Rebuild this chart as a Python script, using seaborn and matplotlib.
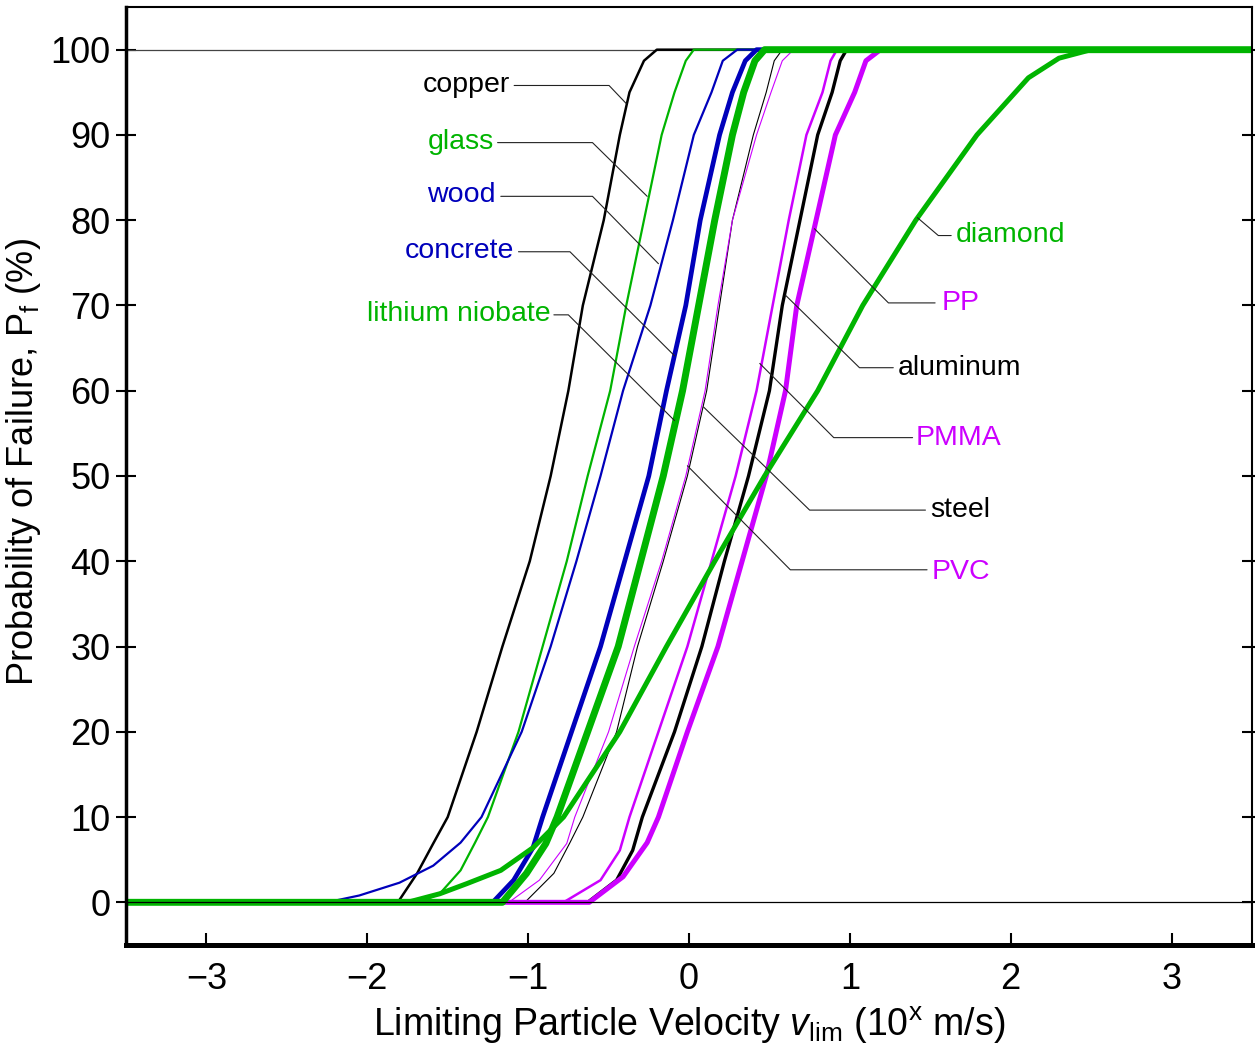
import matplotlib
matplotlib.use("Agg")
import matplotlib.pyplot as plt
import pandas as pd
import seaborn as sns

# x = log10 of limiting velocity, pf = probability of failure (%)
copper_x = [-3.5, -1.81, -1.69, -1.59, -1.50, -1.32, -1.16, -0.99, -0.86, -0.75, -0.66, -0.53, -0.43, -0.37, -0.28, -0.20, 3.5]
copper_pf = [0, 0, 3.4, 6.9, 10, 20, 30, 40, 50, 60, 70, 80, 90, 95, 98.7, 100, 100]

glass_x = [-3.5, -1.68, -1.55, -1.42, -1.33, -1.25, -1.06, -0.91, -0.76, -0.63, -0.49, -0.39, -0.28, -0.17, -0.09, -0.02, 0.03, 3.5]
glass_pf = [0, 0, 1, 3.75, 7, 10, 20, 30, 40, 50, 60, 70, 80, 90, 95, 98.7, 100, 100]

wood_x = [-3.5, -2.25, -2.05, -1.80, -1.59, -1.42, -1.29, -1.04, -0.86, -0.70, -0.55, -0.41, -0.24, -0.10, 0.03, 0.14, 0.21, 0.30, 3.5]
wood_pf = [0, 0, 0.8, 2.3, 4.3, 7, 10, 20, 30, 40, 50, 60, 70, 80, 90, 95, 98.7, 100, 100]

concrete_x = [-3.5, -1.22, -1.09, -0.97, -0.91, -0.73, -0.55, -0.40, -0.25, -0.14, -0.02, 0.07, 0.19, 0.27, 0.35, 0.42, 3.5]
concrete_pf = [0, 0, 2.6, 6.4, 10, 20, 30, 40, 50, 60, 70, 80, 90, 95, 98.7, 100, 100]

linbo3_x = [-3.5, -1.16, -1.01, -0.89, -0.82, -0.63, -0.44, -0.30, -0.16, -0.04, 0.06, 0.16, 0.27, 0.34, 0.41, 0.47, 3.5]
linbo3_pf = [0, 0, 3.4, 6.9, 10, 20, 30, 40, 50, 60, 70, 80, 90, 95, 98.7, 100, 100]

pvc_x = [-3.5, -1.12, -0.93, -0.76, -0.71, -0.50, -0.34, -0.17, -0.02, 0.10, 0.18, 0.27, 0.42, 0.51, 0.58, 0.65, 3.5]
pvc_pf = [0, 0, 2.6, 6.9, 10, 20, 30, 40, 50, 60, 70, 80, 90, 95, 98.7, 100, 100]

steel_x = [-3.5, -1.02, -0.84, -0.74, -0.66, -0.45, -0.32, -0.16, -0.01, 0.11, 0.19, 0.27, 0.40, 0.48, 0.53, 0.58, 3.5]
steel_pf = [0, 0, 3.4, 7, 10, 20, 30, 40, 50, 60, 70, 80, 90, 95, 98.7, 100, 100]

pmma_x = [-3.5, -0.78, -0.55, -0.43, -0.37, -0.19, -0.01, 0.14, 0.29, 0.42, 0.52, 0.62, 0.73, 0.83, 0.88, 0.92, 3.5]
pmma_pf = [0, 0, 2.6, 6.1, 10, 20, 30, 40, 50, 60, 70, 80, 90, 95, 98.7, 100, 100]

aluminum_x = [-3.5, -0.63, -0.45, -0.35, -0.29, -0.09, 0.08, 0.22, 0.37, 0.50, 0.58, 0.69, 0.80, 0.89, 0.94, 0.98, 3.5]
aluminum_pf = [0, 0, 2.6, 6.1, 10, 20, 30, 40, 50, 60, 70, 80, 90, 95, 98.7, 100, 100]

pp_x = [-3.5, -0.62, -0.41, -0.26, -0.19, -0.01, 0.18, 0.33, 0.48, 0.60, 0.67, 0.79, 0.91, 1.03, 1.10, 1.19, 3.5]
pp_pf = [0, 0, 3, 7, 10, 20, 30, 40, 50, 60, 70, 80, 90, 95, 98.7, 100, 100]

diamond_x = [-3.5, -1.75, -1.55, -1.38, -1.17, -0.97, -0.78, -0.43, -0.14, 0.16, 0.47, 0.80, 1.08, 1.41, 1.79, 2.11, 2.30, 2.5, 3.5]
diamond_pf = [0, 0, 1, 2.2, 3.75, 6.4, 10, 20, 30, 40, 50, 60, 70, 80, 90, 96.7, 99, 100, 100]

BLACK = '#000000'
GREEN = '#00b400'
BLUE = '#0000bb'
MAGENTA = '#cc00ff'

# drawing order: last one ends up on top
curves = [
    ('steel', steel_x, steel_pf, BLACK, 0.8),
    ('PVC', pvc_x, pvc_pf, MAGENTA, 0.8),
    ('PMMA', pmma_x, pmma_pf, MAGENTA, 1.8),
    ('aluminum', aluminum_x, aluminum_pf, BLACK, 2.4),
    ('PP', pp_x, pp_pf, MAGENTA, 3.6),
    ('copper', copper_x, copper_pf, BLACK, 1.8),
    ('glass', glass_x, glass_pf, GREEN, 1.6),
    ('wood', wood_x, wood_pf, BLUE, 1.6),
    ('concrete', concrete_x, concrete_pf, BLUE, 3.4),
    ('diamond', diamond_x, diamond_pf, GREEN, 3.6),
    ('lithium niobate', linbo3_x, linbo3_pf, GREEN, 5.0),
]

# label text anchor, leader path (text end -> elbow -> curve)
labels = {
    'copper':          ((-1.11, 95.9), 'right', [(-1.087, 95.8), (-0.497, 95.8), (-0.391, 93.7)]),
    'glass':           ((-1.21, 89.2), 'right', [(-1.19, 89.1), (-0.60, 89.1), (-0.26, 82.8)]),
    'wood':            ((-1.20, 83.0), 'right', [(-1.17, 82.8), (-0.60, 82.8), (-0.19, 74.9)]),
    'concrete':        ((-1.09, 76.4), 'right', [(-1.06, 76.3), (-0.74, 76.3), (-0.09, 64.1)]),
    'lithium niobate': ((-0.86, 69.0), 'right', [(-0.84, 68.9), (-0.75, 68.9), (-0.09, 56.5)]),
    'diamond':         ((1.66, 78.3), 'left', [(1.63, 78.2), (1.55, 78.2), (1.42, 80.3)]),
    'PP':              ((1.57, 70.3), 'left', [(1.53, 70.3), (1.24, 70.3), (0.78, 79.0)]),
    'aluminum':        ((1.30, 62.7), 'left', [(1.27, 62.7), (1.06, 62.7), (0.60, 71.2)]),
    'PMMA':            ((1.41, 54.5), 'left', [(1.39, 54.5), (0.90, 54.5), (0.44, 63.2)]),
    'steel':           ((1.50, 46.0), 'left', [(1.47, 46.0), (0.75, 46.0), (0.09, 58.1)]),
    'PVC':             ((1.51, 38.7), 'left', [(1.48, 39.0), (0.63, 39.0), (-0.01, 51.2)]),
}

sns.set_style('ticks', {'axes.edgecolor': 'black', 'xtick.color': 'black',
                        'ytick.color': 'black', 'text.color': 'black',
                        'axes.labelcolor': 'black'})
plt.rcParams['font.family'] = ['Liberation Sans', 'DejaVu Sans']
plt.rcParams['mathtext.fontset'] = 'custom'
plt.rcParams['mathtext.rm'] = 'Liberation Sans'
plt.rcParams['mathtext.it'] = 'Liberation Sans:italic'

fig = plt.figure(figsize=(12.55, 10.51), dpi=100)
ax = fig.add_axes([0.1004, 0.1009, 0.8972, 0.8924])

ax.axhline(100, color='#444444', lw=0.9, zorder=1)

colors = {}
for name, xs, pf, col, lw in curves:
    df = pd.DataFrame({'x': xs, 'pf': pf})
    sns.lineplot(data=df, x='x', y='pf', color=col, linewidth=lw,
                 estimator=None, sort=False, ax=ax, zorder=2)
    colors[name] = col

ax.axhline(0, color='black', lw=0.9, zorder=3)

for name, ((tx, ty), ha, path) in labels.items():
    px = [p[0] for p in path]
    py = [p[1] for p in path]
    ax.plot(px, py, color='#222222', lw=0.8, zorder=4)
    ax.text(tx, ty, name, color=colors[name], fontsize=20.5, ha=ha, va='center', zorder=5)

ax.set_xlim(-3.5, 3.5)
ax.set_ylim(-5, 105)
ax.set_xticks(range(-3, 4))
ax.set_yticks(range(0, 101, 10))

ax.tick_params(axis='y', which='major', direction='inout', length=14, width=1.5,
               labelsize=26, right=True, pad=4, colors='black')
ax.tick_params(axis='x', which='major', direction='in', length=9, width=1.5,
               labelsize=26, pad=12, colors='black')

for side in ['left', 'bottom', 'top', 'right']:
    ax.spines[side].set_color('black')
ax.spines['left'].set_linewidth(2.5)
ax.spines['bottom'].set_linewidth(3.6)
ax.spines['top'].set_linewidth(1.5)
ax.spines['right'].set_linewidth(1.5)

ax.set_xlabel(r'Limiting Particle Velocity $\mathit{v}_{\rm lim}$ (10$^{\rm x}$ m/s)',
              fontsize=27, labelpad=6, color='black')
ax.set_ylabel(r'Probability of Failure, P$_{\rm f}$ (%)', fontsize=26, color='black')
ax.yaxis.set_label_coords(-0.074, 0.515)

fig.savefig('out.png', dpi=100)
